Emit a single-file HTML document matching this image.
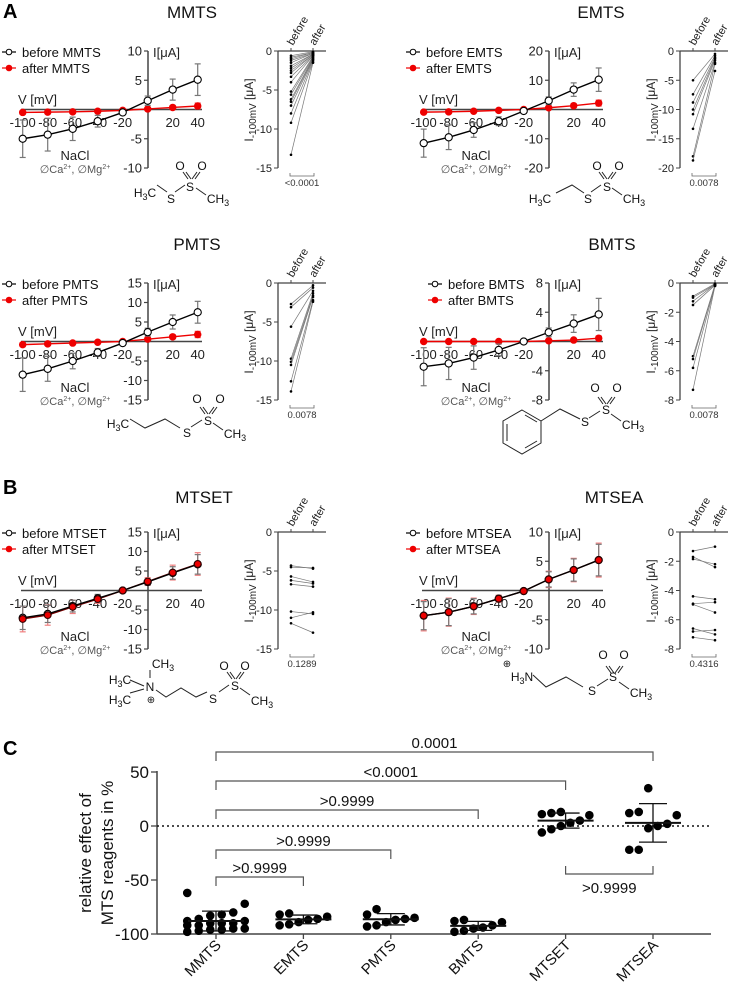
<!DOCTYPE html>
<html><head><meta charset="utf-8"><style>
html,body{margin:0;padding:0;background:#fff}
svg{display:block;font-family:"Liberation Sans",Arial,sans-serif}
</style></head><body>
<svg id="fig" width="734" height="995" viewBox="0 0 734 995" xmlns="http://www.w3.org/2000/svg"></svg>
<script>
// ---- IV data (mean / sd) ----
const voltages=[-100,-80,-60,-40,-20,0,20,40];
const mmtsBefore=[-5,-4.3,-3.3,-2.0,-0.5,1.5,3.4,5.1];
const mmtsBeforeSd=[3.2,2.8,2.0,1.0,0.3,0.8,1.8,2.7];
const mmtsAfter=[-0.5,-0.45,-0.4,-0.3,-0.15,0.1,0.35,0.6];
const mmtsAfterSd=[0.3,0.3,0.2,0.2,0.1,0.2,0.3,0.5];
const emtsBefore=[-11.5,-9.5,-7,-4,-0.5,3,6.8,10.2];
const emtsBeforeSd=[4.8,4.2,2.5,1.5,0.5,1.3,2.3,4];
const emtsAfter=[-0.9,-0.8,-0.6,-0.3,0,0.6,1.3,2.2];
const emtsAfterSd=[0.5,0.4,0.3,0.2,0.2,0.3,0.6,1];
const pmtsBefore=[-8.5,-7,-5,-2.8,-0.4,2.4,5,7.5];
const pmtsBeforeSd=[4.3,3.2,2.0,1.0,0.3,1.0,1.8,2.8];
const pmtsAfter=[-0.8,-0.6,-0.4,-0.2,0,0.6,1.2,1.8];
const pmtsAfterSd=[0.5,0.4,0.3,0.2,0.2,0.3,0.5,0.8];
const bmtsBefore=[-3.45,-3.0,-2.2,-1.15,0,1.25,2.45,3.7];
const bmtsBeforeSd=[2.6,2.2,1.6,0.8,0.2,0.6,1.2,2.2];
const bmtsAfter=[0,0,0,0,0,0.1,0.2,0.45];
const bmtsAfterSd=[0.1,0.1,0.1,0.1,0.1,0.1,0.2,0.3];
const mtsetBefore=[-7,-6,-4,-2,0,2.2,4.5,6.7];
const mtsetBeforeSd=[3,2.2,1.5,1,0.4,0.8,1.6,2.5];
const mtsetAfter=[-7.3,-6.3,-4.2,-2.2,0,2.3,4.6,6.8];
const mtsetAfterSd=[3.3,2.6,1.7,1.1,0.5,1.0,1.9,2.9];
const mtseaBefore=[-4.3,-3.7,-2.7,-1.4,-0.1,1.9,3.5,5.2];
const mtseaBeforeSd=[2.4,2.3,1.3,0.5,0.3,1.3,1.9,2.7];
const mtseaAfter=[-4.3,-3.7,-2.7,-1.4,-0.1,1.9,3.5,5.2];
const mtseaAfterSd=[2.6,2.4,1.4,0.6,0.4,1.4,2.0,2.9];
// ---- paired I-100mV data ----
const mmtsPairBefore=[-0.6,-0.8,-1.0,-1.2,-1.5,-1.9,-2.2,-2.5,-2.8,-3.3,-4,-5.2,-5.6,-6.2,-6.5,-7,-8,-9.2,-13.3];
const mmtsPairAfter=[-0.1,-0.2,-0.2,-0.3,-0.3,-0.4,-0.4,-0.5,-0.5,-0.6,-0.6,-0.7,-0.8,-0.9,-1.0,-1.1,-1.2,-1.4,-1.5];
const emtsPairBefore=[-5,-7.4,-8.8,-10,-10.8,-13.3,-18,-18.7];
const emtsPairAfter=[-0.5,-0.8,-1.1,-1.3,-1.6,-2,-2.2,-3.4];
const pmtsPairBefore=[-2.7,-3.1,-5.6,-9.7,-10.1,-10.5,-12.6,-13.9];
const pmtsPairAfter=[-0.3,-0.6,-1.0,-1.3,-1.6,-1.8,-2.2,-2.4];
const bmtsPairBefore=[-0.9,-1.0,-1.25,-1.5,-5.0,-5.2,-5.8,-7.3];
const bmtsPairAfter=[-0.05,-0.1,-0.1,-0.15,-0.1,-0.15,-0.2,-0.2];
const mtsetPairBefore=[-4.3,-4.5,-5.7,-6.2,-6.7,-10.2,-11,-11.7];
const mtsetPairAfter=[-4.7,-4.6,-6.4,-6.6,-7,-10.5,-10.3,-12.9];
const mtseaPairBefore=[-1.3,-1.7,-1.85,-4.4,-4.9,-4.95,-6.6,-6.8,-7.2];
const mtseaPairAfter=[-1.0,-2.4,-2.2,-4.6,-4.8,-5.5,-7.0,-6.7,-7.4];
// ---- panel C ----
const cCategories=["MMTS","EMTS","PMTS","BMTS","MTSET","MTSEA"];
const cMMTS=[-62,-72,-80,-82,-83,-86,-88,-88,-90,-90,-90,-92,-92,-95,-95,-96,-96,-97,-98];
const cEMTS=[-81,-82,-84,-86,-87,-89,-91,-92];
const cPMTS=[-77,-82,-85,-86,-87,-89,-92,-93];
const cBMTS=[-87,-88,-89,-92,-94,-95,-97,-98];
const cMTSET=[13,12,11,10,5,3,0,-3,-6];
const cMTSEA=[35,13,12,10,2,0,-2,-22,-22];
const cYTicks=[50,0,-50,-100];
const cBracketLabels=["0.0001","<0.0001",">0.9999",">0.9999",">0.9999"];
const cBracketTo=[5,4,3,2,1];

const NS="http://www.w3.org/2000/svg";
const svg=document.getElementById('fig');
function el(tag,attrs,parent,txt){const e=document.createElementNS(NS,tag);for(const k in attrs)e.setAttribute(k,attrs[k]);if(txt!==undefined)e.textContent=txt;(parent||svg).appendChild(e);return e;}
function line(x1,y1,x2,y2,stroke,w,p){return el('line',{x1,y1,x2,y2,stroke:stroke||'#222','stroke-width':w||1},p);}
function txt(x,y,s,size,anchor,p,fill){return el('text',{x,y,'font-size':size,'text-anchor':anchor||'start',fill:fill||'#111'},p,s);}
function grp(name){const g=el('g',{});return g;}
function mean(a){return a.reduce((s,v)=>s+v,0)/a.length;}
function sd(a){const m=mean(a);return Math.sqrt(a.reduce((s,v)=>s+(v-m)*(v-m),0)/(a.length-1));}

function ivPanel(key,ox,oy,ymax,yticks,b,bsd,a,asd,legDx,bPanel){
  const g=grp(key+'-iv-chart');
  const X=v=>ox+147.7+1.25*v, Y=i=>oy+109.5-i*(58.5/ymax);
  line(ox+148,oy+51,ox+148,oy+168,'#444',1.5,g);
  yticks.forEach(t=>{line(ox+144,Y(t),ox+148,Y(t),'#444',1.2,g);const l=txt(ox+142,Y(t)+4.5,String(t),13,'end',g,'#222');});
  line(ox+21,oy+109.5,ox+202,oy+109.5,'#444',1.5,g);
  voltages.forEach(v=>{if(v!==0){const l=txt(X(v),oy+127,String(v),13,'middle',g,'#222');}});
  txt(ox+18,oy+104,'V [mV]',13,'start',g,'#222');
  txt(ox+153,oy+57,'I[μA]',13,'start',g,'#222');
  const series=[[a,asd,bPanel?'#7a0000':'#e00',bPanel?'#f08080':'#e44',true],[b,bsd,'#000','#777',false]];
  series.forEach(([m,s,col,ecol,filled])=>{
    const sg=el('g',{},g);
    
    
    m.forEach((v,i)=>{const x=X(voltages[i]);line(x,Y(v-s[i]),x,Y(v+s[i]),ecol,1.2,sg);line(x-3,Y(v-s[i]),x+3,Y(v-s[i]),ecol,1.2,sg);line(x-3,Y(v+s[i]),x+3,Y(v+s[i]),ecol,1.2,sg);});
    el('polyline',{points:m.map((v,i)=>X(voltages[i])+','+Y(v)).join(' '),fill:'none',stroke:col,'stroke-width':1.4},sg);
    if(!filled||!bPanel) m.forEach((v,i)=>{const c=el('circle',{cx:X(voltages[i]),cy:Y(v),r:filled?3.2:3.6,fill:filled?'#e00':'#fff',stroke:filled?'#e00':'#000','stroke-width':1.1},sg);});
    if(!filled&&bPanel) a.forEach((v,i)=>{const c=el('circle',{cx:X(voltages[i]),cy:Y(v),r:3.4,fill:'#e00',stroke:'#300','stroke-width':1.1},sg);});
  });
  const lg=el('g',{},g);
  const lx=ox+legDx;
  line(lx+2,oy+52,lx+16,oy+52,'#000',1.2,lg);el('circle',{cx:lx+9,cy:oy+52,r:2.8,fill:'#fff',stroke:'#000','stroke-width':1},lg);
  txt(lx+22,oy+57,'before '+key.toUpperCase(),13,'start',lg,'#111');
  line(lx+2,oy+68,lx+16,oy+68,'#e00',1.2,lg);el('circle',{cx:lx+9,cy:oy+68,r:2.8,fill:'#e00',stroke:'#e00'},lg);
  txt(lx+22,oy+73,'after '+key.toUpperCase(),13,'start',lg,'#111');
  txt(ox+75,oy+160,'NaCl',13,'middle',g,'#222');
  const c=txt(ox+75,oy+173,'',11,'middle',g,'#555');
  c.innerHTML='∅Ca<tspan dy="-4" font-size="7">2+</tspan><tspan dy="4">, ∅Mg</tspan><tspan dy="-4" font-size="7">2+</tspan>';
}
function pairedPanel(key,ox,oy,pmin,ticks,bef,aft,p){
  const g=grp(key+'-paired-chart');
  const Y=v=>oy+51+(v/pmin)*117, xb=ox+291, xa=ox+313;
  line(ox+278,oy+51,ox+278,oy+168,'#444',1.3,g);
  line(ox+278,oy+51,ox+326,oy+51,'#444',1.3,g);
  ticks.forEach(t=>{line(ox+274,Y(t),ox+278,Y(t),'#444',1,g);txt(ox+272,Y(t)+4,String(t),11,'end',g,'#222');});
  line(xb,oy+51,xb,oy+48,'#444',1,g);line(xa,oy+51,xa,oy+48,'#444',1,g);
  txt(xb+2,oy+46,'before',11,'start',g,'#222').setAttribute('transform',`rotate(-60 ${xb+2} ${oy+46})`);
  txt(xa+2,oy+46,'after',11,'start',g,'#222').setAttribute('transform',`rotate(-60 ${xa+2} ${oy+46})`);
  const lx=ox+253, ly=oy+110;
  const yl=el('text',{x:0,y:0,'font-size':12,'text-anchor':'middle',fill:'#222',transform:`translate(${lx} ${ly}) rotate(-90)`},g);
  
  yl.innerHTML='I<tspan font-size="10" dy="3">-100mV</tspan><tspan dy="-3"> [μA]</tspan>';
  bef.forEach((v,i)=>{line(xb,Y(v),xa,Y(aft[i]),'#777',0.7,g);
    const d1=el('circle',{cx:xb,cy:Y(v),r:1.3,fill:'#000'},g);
    const d2=el('circle',{cx:xa,cy:Y(aft[i]),r:1.3,fill:'#000'},g);});
  el('path',{d:`M${xb-1} ${oy+173}V${oy+176}H${xa+1}V${oy+173}`,fill:'none',stroke:'#666','stroke-width':0.8},g);
  txt(ox+302,oy+186,p,9.5,'middle',g,'#333');
}
ivPanel('mmts',0,0,10,[10,5,-5,-10],mmtsBefore,mmtsBeforeSd,mmtsAfter,mmtsAfterSd,0,false);
ivPanel('emts',401,0,20,[20,10,-10,-20],emtsBefore,emtsBeforeSd,emtsAfter,emtsAfterSd,3,false);
ivPanel('pmts',0,232,15,[15,10,5,-5,-10,-15],pmtsBefore,pmtsBeforeSd,pmtsAfter,pmtsAfterSd,0,false);
ivPanel('bmts',401,232,8,[8,4,-4,-8],bmtsBefore,bmtsBeforeSd,bmtsAfter,bmtsAfterSd,25,false);
ivPanel('mtset',0,481,15,[15,10,5,-5,-10,-15],mtsetBefore,mtsetBeforeSd,mtsetAfter,mtsetAfterSd,0,true);
ivPanel('mtsea',401,481,10,[10,5,-5,-10],mtseaBefore,mtseaBeforeSd,mtseaAfter,mtseaAfterSd,3,true);
pairedPanel('mmts',0,0,-15,[0,-5,-10,-15],mmtsPairBefore,mmtsPairAfter,'<0.0001');
pairedPanel('emts',402,0,-20,[0,-5,-10,-15,-20],emtsPairBefore,emtsPairAfter,'0.0078');
pairedPanel('pmts',0,232,-15,[0,-5,-10,-15],pmtsPairBefore,pmtsPairAfter,'0.0078');
pairedPanel('bmts',402,232,-8,[0,-2,-4,-6,-8],bmtsPairBefore,bmtsPairAfter,'0.0078');
pairedPanel('mtset',0,481,-15,[0,-5,-10,-15],mtsetPairBefore,mtsetPairAfter,'0.1289');
pairedPanel('mtsea',402,481,-8,[0,-2,-4,-6,-8],mtseaPairBefore,mtseaPairAfter,'0.4316');

[['MMTS',192,18],['EMTS',601,18],['PMTS',197,250],['BMTS',612,250],['MTSET',204,503],['MTSEA',614,503]].forEach(([s,x,y])=>{const t=txt(x,y,s,17,'middle',null,'#111');});
[['A',3,18],['B',3,494],['C',3,755]].forEach(([s,x,y])=>{const t=txt(x,y,s,20,'start',null,'#000');t.setAttribute('font-weight','bold');});

function chem(name,bonds,labels){const g=grp(name);el('path',{d:bonds,fill:'none',stroke:'#222','stroke-width':1},g);
  labels.forEach(([x,y,h])=>{const t=txt(x,y,'',12,'middle',g,'#111');t.innerHTML=h;});}
const sub=s=>`<tspan dy="3" font-size="9">${s}</tspan>`;
chem('mmts-structure','M157 185L167 192M175 192L185 185M188 179L183 172M191 179L186 172M195 179L200 172M192 179L197 172M196 188L206 195',
 [[145,197,'H'+sub('3')+'<tspan dy="-3">C</tspan>'],[171,203,'S'],[190,191,'S'],[180,170,'O'],[202,170,'O'],[218,203,'CH'+sub('3')]]);
chem('emts-structure','M556 193L572 185L584 193M591 192L601 185M604 179L599 172M607 179L602 172M611 179L616 172M608 179L613 172M612 188L622 195',
 [[540,203,'H'+sub('3')+'<tspan dy="-3">C</tspan>'],[588,203,'S'],[607,191,'S'],[597,170,'O'],[619,170,'O'],[634,203,'CH'+sub('3')]]);
chem('pmts-structure','M130 419L145 428L165 419L180 428M191 427L202 420M205 414L200 407M208 414L203 407M212 414L217 407M209 414L214 407M213 423L223 430',
 [[118,428,'H'+sub('3')+'<tspan dy="-3">C</tspan>'],[187,437,'S'],[208,425,'S'],[197,403,'O'],[220,403,'O'],[235,438,'CH'+sub('3')]]);
chem('bmts-structure','M522 410L541 421L541 443L522 454L503 443L503 421Z M525 415L537 422M537 441L525 448M507 441L507 424M541 421L560 409L580 419M589 418L600 411M603 404L598 397M606 404L601 397M610 404L615 397M607 404L612 397M611 414L621 421',
 [[585,426,'S'],[606,414,'S'],[595,392,'O'],[617,392,'O'],[633,429,'CH'+sub('3')]]);
chem('mtset-structure','M130 680L144 686M130 693L144 689M150 678L150 670M156 690L166 697L181 688L196 697L207 692M219 692L229 685M232 679L227 672M235 679L230 672M239 679L244 672M236 679L241 672M240 688L250 695',
 [[120,684,'H'+sub('3')+'<tspan dy="-3">C</tspan>'],[120,704,'H'+sub('3')+'<tspan dy="-3">C</tspan>'],[163,668,'CH'+sub('3')],[150,691,'N'],[151,703,'<tspan font-size="10">⊕</tspan>'],[213,703,'S'],[235,690,'S'],[224,670,'O'],[245,670,'O'],[262,705,'CH'+sub('3')]]);
chem('mtsea-structure','M533 675L546 687L566 677L583 687M597 686L608 679M611 673L606 666M614 673L609 666M618 673L623 666M615 673L620 666M619 682L629 689',
 [[522,681,'H'+sub('3')+'<tspan dy="-3">N</tspan>'],[507,667,'<tspan font-size="10">⊕</tspan>'],[592,695,'S'],[613,681,'S'],[603,659,'O'],[624,659,'O'],[641,697,'CH'+sub('3')]]);

(function(){
  const g=grp('scatter-chart-c');
  const CX=i=>216+i*87.4, CY=v=>826-v*(54/50);
  const sets=[cMMTS,cEMTS,cPMTS,cBMTS,cMTSET,cMTSEA];
  line(157,CY(50)-1,157,CY(-100),'#444',1.5,g);
  line(157,CY(-100),711,CY(-100),'#444',1.5,g);
  el('line',{x1:157,y1:CY(0),x2:711,y2:CY(0),stroke:'#111','stroke-width':1.4,'stroke-dasharray':'2 3'},g);
  cYTicks.forEach(t=>{line(151,CY(t),157,CY(t),'#444',1.3,g);const l=txt(149,CY(t)+6,String(t),17,'end',g,'#111');});
  const t1=txt(91,853,'relative effect of',17,'middle',g,'#111');t1.setAttribute('transform','rotate(-90 91 853)');
  const t2=txt(113,853,'MTS reagents in %',17,'middle',g,'#111');t2.setAttribute('transform','rotate(-90 113 853)');
  cCategories.forEach((c,i)=>{const x=CX(i);line(x,CY(-100),x,CY(-100)+5,'#444',1.3,g);
    const l=txt(x+6,946,c,15,'end',g,'#111');l.setAttribute('transform',`rotate(-45 ${x+6} 946)`);});
  sets.forEach((vals,i)=>{const x=CX(i);const sg=el('g',{},g);
    const sorted=vals.map((v,k)=>[v,k]).sort((p,q)=>p[0]-q[0]);const n=vals.length;
    sorted.forEach(([v],r)=>{const cols=Math.min(n,6);const off=((r%cols)-(cols-1)/2)*(n>12?11.5:9.5);
      const d=el('circle',{cx:x+off,cy:CY(v),r:4.3,fill:'#000'},sg);});
    const m=mean(vals),s=sd(vals);
    line(x-28,CY(m),x+28,CY(m),'#111',2,sg);
    line(x,CY(m-s),x,CY(m+s),'#111',1.3,sg);
    line(x-14,CY(m-s),x+14,CY(m-s),'#111',1.3,sg);line(x-14,CY(m+s),x+14,CY(m+s),'#111',1.3,sg);
  });
  const ys=[752,781,810,850,877];
  cBracketLabels.forEach((lab,k)=>{const bg=el('g',{},g);
    const x1=CX(0),x2=CX(cBracketTo[k]);el('path',{d:`M${x1} ${ys[k]+9}V${ys[k]}H${x2}V${ys[k]+9}`,fill:'none',stroke:'#555','stroke-width':1.2},bg);
    txt((x1+x2)/2,ys[k]-4,lab,15,'middle',bg,'#111');});
  const bg=el('g',{},g);
  el('path',{d:`M${CX(4)} ${866}V${874}H${CX(5)}V${866}`,fill:'none',stroke:'#555','stroke-width':1.2},bg);
  txt((CX(4)+CX(5))/2,893,'>0.9999',15,'middle',bg,'#111');
})();
</script>
</body></html>
